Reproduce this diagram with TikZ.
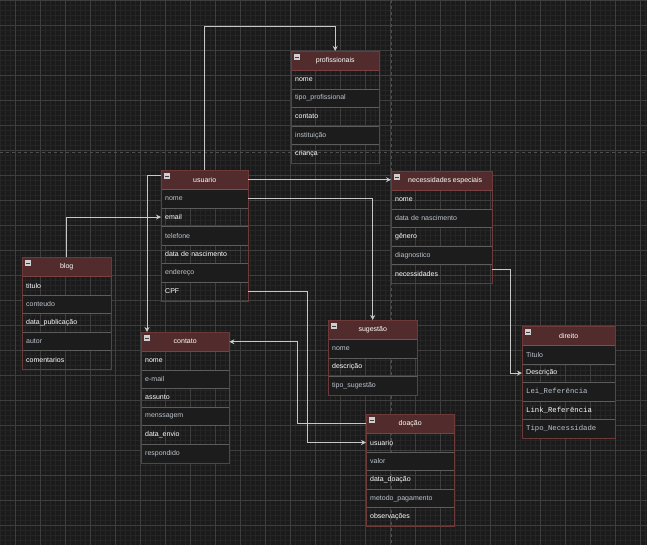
\documentclass[tikz,border=0pt]{standalone}
\usepackage{fontspec}
\setmainfont{Liberation Sans}
\newfontfamily\monofont{Liberation Mono}
\usetikzlibrary{arrows.meta,positioning}
\definecolor{canvas}{HTML}{1B1B1B}
\definecolor{minorline}{HTML}{252525}
\definecolor{majorline}{HTML}{3E3E3E}
\definecolor{breakline}{HTML}{4E4E4E}
\definecolor{hdrfill}{HTML}{522C2C}
\definecolor{hdrline}{HTML}{7A4242}
\definecolor{tabedge}{HTML}{6E3939}
\definecolor{rowfill}{HTML}{1C1C1C}
\definecolor{rowline}{HTML}{5C5C5C}
\definecolor{rowtext}{HTML}{BCC5CF}
\definecolor{linkgrey}{HTML}{C8C8C8}
\definecolor{iconfill}{HTML}{CFCFCF}

\begin{document}
\begin{tikzpicture}[x=1pt,y=-1pt,
  hdr/.style={draw=hdrline,fill=hdrfill,text=white,anchor=north west,minimum height=19pt,inner sep=0pt,font=\fontsize{7}{8}\selectfont},
  whiterow/.style={text=white,anchor=north west,minimum height=18.6pt,inner xsep=4pt,inner ysep=0pt,align=left,font=\fontsize{7}{8}\selectfont},
  greyrow/.style={whiterow,draw=rowline,fill=rowfill,text=rowtext},
  whitemono/.style={whiterow,font=\monofont\fontsize{7.3}{8}\selectfont},
  greymono/.style={greyrow,font=\monofont\fontsize{7.3}{8}\selectfont},
  tabline/.style={draw=tabedge,line width=0.8pt},
  minus/.style={fill=iconfill,anchor=north west,minimum size=6pt,inner sep=0pt,
    path picture={\draw[black!75,line width=1pt] ([xshift=1pt]path picture bounding box.west) -- ([xshift=-1pt]path picture bounding box.east);}},
  link/.style={draw=linkgrey,line width=0.8pt,-{Stealth[length=5pt,width=5pt]}}]
\useasboundingbox (0,0) rectangle (647,545);
\fill[canvas] (0,0) rectangle (647,545);
\draw[minorline,line width=0.5pt,step=5pt] (0,0) grid (647,545);
\draw[majorline,line width=0.7pt,xshift=15pt,step=25pt] (-15,0) grid (632,545);
\draw[breakline,line width=0.8pt,dash pattern=on 3pt off 3pt] (0,152) -- (647,152);
\draw[breakline,line width=0.8pt,dash pattern=on 3pt off 3pt] (391,0) -- (391,545);

% profissionais
\def\tx{291}\def\ty{51}\def\tw{88}\pgfmathsetmacro\txw{\tw-8}
\node[hdr,minimum width=\tw pt] (prof) at (\tx,\ty) {profissionais};
\foreach \s/\lbl [count=\i] in {whiterow/nome,greyrow/tipo\_profissional,whiterow/contato,greyrow/instituição,whiterow/criança}
  \node[\s,text width=\txw pt] (prof-\i) at (\tx,\ty+19+18.6*\i-18.6) {\lbl};
\draw[tabline] (prof.north west) rectangle (prof-5.south east);
\node[minus] (prof-m) at ([shift={(3pt,-3pt)}]prof.north west) {};

% usuario
\def\tx{161}\def\ty{170}\def\tw{87}\pgfmathsetmacro\txw{\tw-8}
\node[hdr,minimum width=\tw pt] (usu) at (\tx,\ty) {usuario};
\foreach \s/\lbl [count=\i] in {greyrow/nome,whiterow/email,greyrow/telefone,whiterow/data de nascimento,greyrow/endereço,whiterow/CPF}
  \node[\s,text width=\txw pt] (usu-\i) at (\tx,\ty+19+18.6*\i-18.6) {\lbl};
\draw[tabline] (usu.north west) rectangle (usu-6.south east);
\node[minus] (usu-m) at ([shift={(3pt,-3pt)}]usu.north west) {};

% necessidades especiais
\def\tx{391}\def\ty{171}\def\tw{101}\pgfmathsetmacro\txw{\tw-8}
\node[hdr,minimum width=\tw pt] (nec) at (\tx,\ty) {\hspace{7pt}necessidades especiais};
\foreach \s/\lbl [count=\i] in {whiterow/nome,greyrow/data de nascimento,whiterow/gênero,greyrow/diagnostico,whiterow/necessidades}
  \node[\s,text width=\txw pt] (nec-\i) at (\tx,\ty+19+18.6*\i-18.6) {\lbl};
\draw[tabline] (nec.north west) rectangle (nec-5.south east);
\node[minus] (nec-m) at ([shift={(3pt,-3pt)}]nec.north west) {};

% blog
\def\tx{22}\def\ty{257}\def\tw{89}\pgfmathsetmacro\txw{\tw-8}
\node[hdr,minimum width=\tw pt] (blog) at (\tx,\ty) {blog};
\foreach \s/\lbl [count=\i] in {whiterow/titulo,greyrow/conteudo,whiterow/data\_publicação,greyrow/autor,whiterow/comentarios}
  \node[\s,text width=\txw pt] (blog-\i) at (\tx,\ty+19+18.6*\i-18.6) {\lbl};
\draw[tabline] (blog.north west) rectangle (blog-5.south east);
\node[minus] (blog-m) at ([shift={(3pt,-3pt)}]blog.north west) {};

% contato
\def\tx{141}\def\ty{332}\def\tw{88}\pgfmathsetmacro\txw{\tw-8}
\node[hdr,minimum width=\tw pt] (cont) at (\tx,\ty) {contato};
\foreach \s/\lbl [count=\i] in {whiterow/nome,greyrow/e-mail,whiterow/assunto,greyrow/menssagem,whiterow/data\_envio,greyrow/respondido}
  \node[\s,text width=\txw pt] (cont-\i) at (\tx,\ty+19+18.6*\i-18.6) {\lbl};
\draw[tabline] (cont.north west) rectangle (cont-6.south east);
\node[minus] (cont-m) at ([shift={(3pt,-3pt)}]cont.north west) {};

% sugestao
\def\tx{328}\def\ty{320}\def\tw{89}\pgfmathsetmacro\txw{\tw-8}
\node[hdr,minimum width=\tw pt] (sug) at (\tx,\ty) {sugestão};
\foreach \s/\lbl [count=\i] in {greyrow/nome,whiterow/descrição,greyrow/tipo\_sugestão}
  \node[\s,text width=\txw pt] (sug-\i) at (\tx,\ty+19+18.6*\i-18.6) {\lbl};
\draw[tabline] (sug.north west) rectangle (sug-3.south east);
\node[minus] (sug-m) at ([shift={(3pt,-3pt)}]sug.north west) {};

% doacao
\def\tx{366}\def\ty{414}\def\tw{88}\pgfmathsetmacro\txw{\tw-8}
\node[hdr,minimum width=\tw pt] (doa) at (\tx,\ty) {doação};
\foreach \s/\lbl [count=\i] in {whiterow/usuario,greyrow/valor,whiterow/data\_doação,greyrow/metodo\_pagamento,whiterow/observações}
  \node[\s,text width=\txw pt] (doa-\i) at (\tx,\ty+19+18.6*\i-18.6) {\lbl};
\draw[tabline] (doa.north west) rectangle (doa-5.south east);
\node[minus] (doa-m) at ([shift={(3pt,-3pt)}]doa.north west) {};

% direito
\def\tx{522}\def\ty{326}\def\tw{93}\pgfmathsetmacro\txw{\tw-8}
\node[hdr,minimum width=\tw pt] (dir) at (\tx,\ty) {direito};
\foreach \s/\lbl [count=\i] in {greyrow/Titulo,whiterow/Descrição,greymono/Lei\_Referência,whitemono/Link\_Referência,greymono/Tipo\_Necessidade}
  \node[\s,text width=\txw pt] (dir-\i) at (\tx,\ty+19+18.6*\i-18.6) {\lbl};
\draw[tabline] (dir.north west) rectangle (dir-5.south east);
\node[minus] (dir-m) at ([shift={(3pt,-3pt)}]dir.north west) {};

\draw[link] (usu.north) -- ++(0,-144) -| (prof.north);
\draw[link] (usu.east) -- (usu.east -| nec.west);
\draw[link] (usu-1.east) -| (sug.north);
\draw[link] (usu-6.east) -- ++(59,0) |- (doa-1.west);
\draw[link] (doa.west) -- ++(-69,0) |- (cont.east);
\draw[link] (blog.north) |- (usu-2.west);
\draw[link] ([yshift=4pt]usu.west) -| ([xshift=6pt]cont.north west);
\draw[link] ([yshift=5pt]nec-5.east) -- ++(18,0) |- (dir-2.west);
\end{tikzpicture}
\end{document}
